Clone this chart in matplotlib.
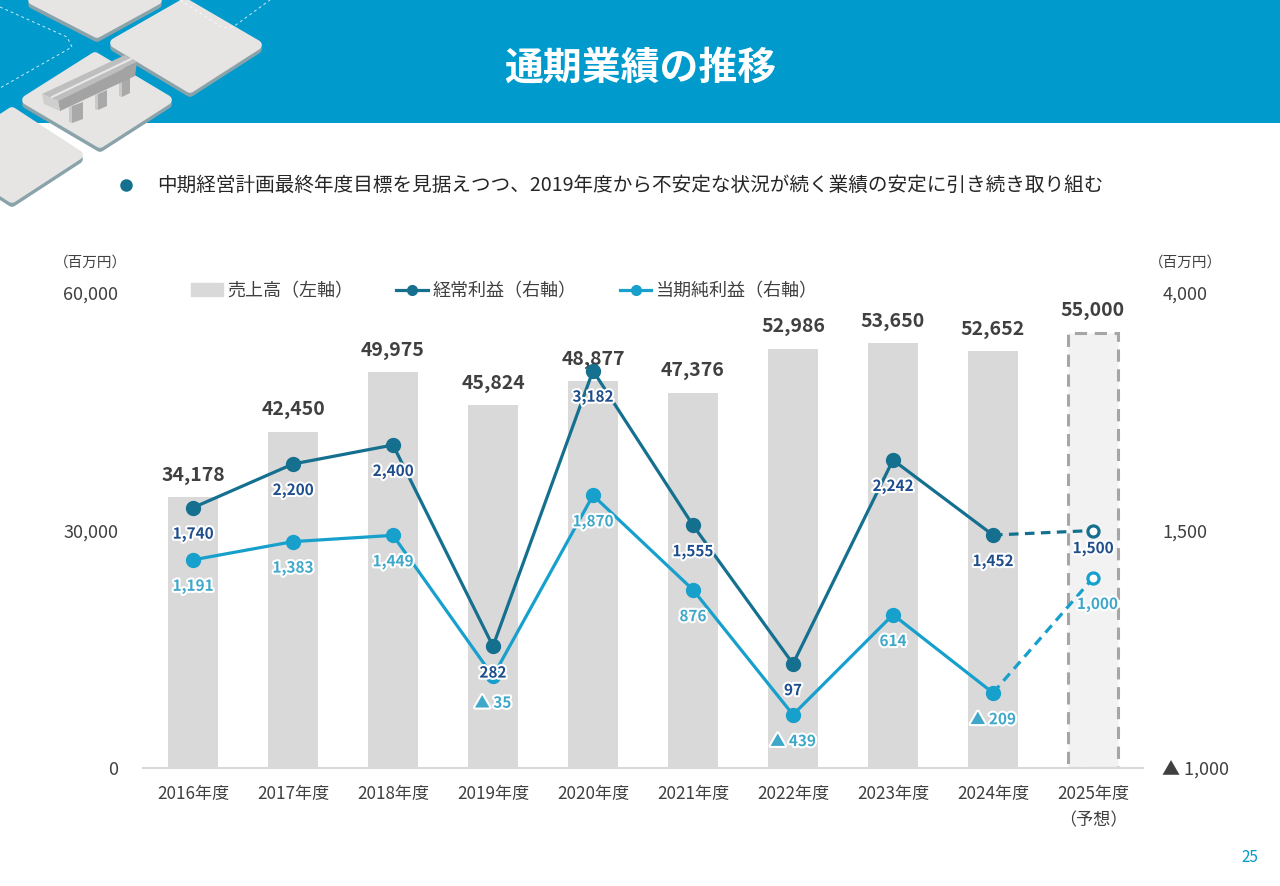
import matplotlib
matplotlib.use('Agg')
import matplotlib.pyplot as plt
import matplotlib.patheffects as pe
from matplotlib.patches import Polygon, Patch, Rectangle
from matplotlib.lines import Line2D
import numpy as np

plt.rcParams['font.family'] = ['Noto Sans CJK JP', 'DejaVu Sans']

# data
years = ['2016年度', '2017年度', '2018年度', '2019年度', '2020年度',
         '2021年度', '2022年度', '2023年度', '2024年度', '2025年度\n（予想）']
sales = [34178, 42450, 49975, 45824, 48877, 47376, 52986, 53650, 52652, 55000]
ordinary = [1740, 2200, 2400, 282, 3182, 1555, 97, 2242, 1452, 1500]
net = [1191, 1383, 1449, -35, 1870, 876, -439, 614, -209, 1000]

BLUE = '#009ACD'
C_ORD = '#15708F'
C_NET = '#17A0CC'
C_ORD_LBL = '#1F4E8C'
C_NET_LBL = '#3FA8C9'
C_TXT = '#404040'


def fmt(v):
    return '▲ {:,}'.format(-v) if v < 0 else '{:,}'.format(v)


W, H = 1280, 886
fig = plt.figure(figsize=(W / 100, H / 100), dpi=100)

# ---- header / decoration (pixel coords) ----
bg = fig.add_axes([0, 0, 1, 1], zorder=0)
bg.set_xlim(0, W)
bg.set_ylim(H, 0)
bg.axis('off')
bg.add_patch(Rectangle((0, 0), W, 123, color=BLUE, lw=0))

# dashed outlines
bg.plot([0, 67, 72, 0], [7, 37, 47, 88], color='white', lw=0.7, ls=(0, (3, 3)), alpha=0.8)
bg.plot([180, 223, 233, 270], [0, 28, 27, 0], color='white', lw=0.7, ls=(0, (3, 3)), alpha=0.8)

tiles = [
    [(33, 0), (97, 33), (157, 0), (95, -40)],
    [(115, 43), (185, 3), (257, 45), (190, 88)],
    [(27, 100), (95, 57), (167, 100), (100, 143)],
    [(-55, 155), (12, 112), (78, 155), (12, 198)],
]
for t in tiles:
    sh = [(x, y + 4) for x, y in t]
    bg.add_patch(Polygon(sh, closed=True, fc='#8AA3AB', ec='#8AA3AB', lw=7, joinstyle='round'))
    bg.add_patch(Polygon(t, closed=True, fc='#E6E5E3', ec='#E6E5E3', lw=7, joinstyle='round'))

# bridge
for xs, y0, y1 in [((72, 83), 106, 123), ((98, 107), 94, 110), ((122, 130), 81, 97)]:
    bg.add_patch(Polygon([(xs[0], y0), (xs[1], y0 - 4), (xs[1], y1 - 4), (xs[0], y1)],
                         closed=True, fc='#A9A9A9', ec='none'))
    bg.add_patch(Polygon([(xs[0] - 3, y0 + 1), (xs[0], y0), (xs[0], y1), (xs[0] - 3, y1 - 1)],
                         closed=True, fc='#C9C9C9', ec='none'))
bg.add_patch(Polygon([(42, 94), (125, 55), (137, 62), (58, 101)], closed=True, fc='#BEBEBE', ec='none'))
bg.plot([52, 131], [97, 59], color='#E8E8E8', lw=1.5)
bg.add_patch(Polygon([(58, 101), (137, 62), (135, 76), (60, 111)], closed=True, fc='#A3A3A3', ec='none'))
bg.add_patch(Polygon([(42, 94), (58, 101), (60, 111), (44, 104)], closed=True, fc='#CFCFCF', ec='none'))

fig.text(640 / W, 1 - 68 / H, '通期業績の推移', color='white', fontsize=28,
         fontweight='bold', ha='center', va='center')

bg.plot([126], [185], 'o', color='#15708F', ms=8)
fig.text(157 / W, 1 - 185 / H,
         '中期経営計画最終年度目標を見据えつつ、2019年度から不安定な状況が続く業績の安定に引き続き取り組む',
         fontsize=14.1, color='#262626', ha='left', va='center')
fig.text(1250 / W, 1 - 858 / H, '25', fontsize=11, color=BLUE, ha='center', va='center')

fig.text(90 / W, 1 - 263 / H, '（百万円）', fontsize=10.5, color=C_TXT, ha='center', va='center')
fig.text(1185 / W, 1 - 263 / H, '（百万円）', fontsize=10.5, color=C_TXT, ha='center', va='center')

# ---- main chart ----
ax = fig.add_axes([143 / W, 118 / H, 1000 / W, 475 / H], zorder=1)
ax.patch.set_alpha(0)
x = np.arange(len(years))

ax.bar(x[:-1], sales[:-1], width=0.5, color='#D9D9D9', zorder=1)
ax.bar(x[-1:], sales[-1:], width=0.5, color='#F2F2F2', edgecolor='#A6A6A6',
       linestyle=(0, (4, 2.5)), linewidth=2.2, zorder=1)
for xi, v in zip(x, sales):
    ax.annotate('{:,}'.format(v), (xi, v), xytext=(0, 9), textcoords='offset points',
                ha='center', va='bottom', fontsize=14, fontweight='bold', color=C_TXT)

ax.set_xlim(-0.5, len(years) - 0.5)
ax.set_ylim(0, 60000)
ax.set_yticks([0, 30000, 60000])
ax.set_yticklabels(['0', '30,000', '60,000'])
ax.set_xticks(x)
ax.set_xticklabels(years, linespacing=1.6)
ax.tick_params(axis='y', length=0, pad=18, labelsize=13, labelcolor=C_TXT)
ax.tick_params(axis='x', length=0, pad=12, labelsize=12.3, labelcolor=C_TXT)
for s in ['top', 'right', 'left']:
    ax.spines[s].set_visible(False)
ax.spines['bottom'].set_color('#D9D9D9')
ax.spines['bottom'].set_linewidth(1.5)

ax2 = ax.twinx()
ax2.set_ylim(-1000, 4000)
ax2.set_yticks([-1000, 1500, 4000])
ax2.set_yticklabels(['▲ 1,000', '1,500', '4,000'])
ax2.tick_params(axis='y', length=0, pad=14, labelsize=13, labelcolor=C_TXT)
for s in ax2.spines.values():
    s.set_visible(False)

stroke = [pe.withStroke(linewidth=3, foreground='white')]
for vals, col, lcol in [(ordinary, C_ORD, C_ORD_LBL), (net, C_NET, C_NET_LBL)]:
    ax2.plot(x[:-1], vals[:-1], color=col, lw=2.3, marker='o', ms=10, zorder=3)
    ax2.plot(x[-2:], vals[-2:], color=col, lw=2.3, ls=(0, (3, 2)), zorder=3)
    ax2.plot(x[-1:], vals[-1:], color=col, marker='o', ms=8, mfc='white', mew=2.3,
             ls='none', zorder=4)
    for i, (xi, v) in enumerate(zip(x, vals)):
        off = -13 if i == len(x) - 1 and col == C_ORD else -19
        dx = 3 if i == len(x) - 1 and col == C_NET else 0
        ax2.annotate(fmt(v), (xi, v), xytext=(dx, off), textcoords='offset points',
                     ha='center', va='center', fontsize=11, fontweight='bold',
                     color=lcol, path_effects=stroke, zorder=5)

handles = [Patch(color='#D9D9D9'),
           Line2D([], [], color=C_ORD, lw=2.3, marker='o', ms=7),
           Line2D([], [], color=C_NET, lw=2.3, marker='o', ms=7)]
labels = ['売上高（左軸）', '経常利益（右軸）', '当期純利益（右軸）']
ax2.legend(handles, labels, loc='center left', bbox_to_anchor=(191 / W, 1 - 291 / H),
           bbox_transform=fig.transFigure, ncol=3, frameon=False, fontsize=13,
           handlelength=1.75, handleheight=0.7, handletextpad=0.25, columnspacing=2.4,
           borderpad=0, borderaxespad=0, labelcolor=C_TXT)

fig.savefig('out.png', dpi=100)
